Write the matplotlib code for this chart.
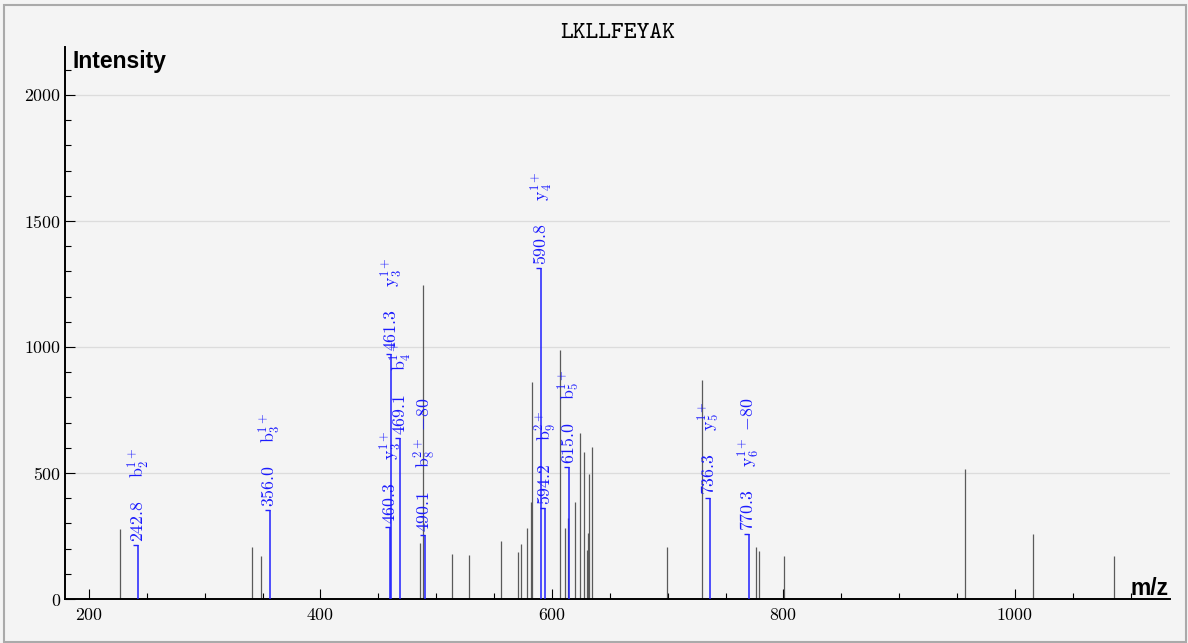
import matplotlib
matplotlib.use('Agg')
import matplotlib.pyplot as plt
from matplotlib.ticker import MultipleLocator
from matplotlib.patches import Rectangle

plt.rcParams['font.family'] = 'cmr10'
plt.rcParams['mathtext.fontset'] = 'cm'
plt.rcParams['axes.formatter.use_mathtext'] = True

peptide = 'LKLLFEYAK'

# unmatched peaks (m/z, intensity)
peak_mz = [226.8, 341.0, 348.3, 486.0, 488.3, 513.8, 528.3, 556.2, 570.9, 573.2,
           578.7, 582.1, 583.0, 607.2, 611.0, 613.7, 619.9, 624.2, 627.3, 629.9,
           631.1, 632.2, 634.3, 699.6, 729.3, 776.2, 778.8, 800.2, 957.1, 1015.3,
           1086.0]
peak_int = [277, 208, 171, 224, 1246, 178, 175, 231, 188, 218,
            280, 384, 860, 988, 280, 320, 384, 660, 585, 194,
            260, 497, 603, 205, 869, 205, 192, 172, 515, 257,
            169]

# matched fragment ions
ion_mz = [242.8, 356.0, 460.3, 461.3, 469.1, 490.1, 590.8, 594.2, 615.0, 736.3, 770.3]
ion_int = [214, 353, 284, 972, 638, 254, 1312, 360, 525, 400, 258]
ion_names = [r'$\mathrm{b}_{2}^{1+}$', r'$\mathrm{b}_{3}^{1+}$', r'$\mathrm{y}_{3}^{1+}$',
             r'$\mathrm{y}_{3}^{1+}$', r'$\mathrm{b}_{4}^{1+}$', r'$\mathrm{b}_{8}^{2+}\ {-}80$',
             r'$\mathrm{y}_{4}^{1+}$', r'$\mathrm{b}_{9}^{2+}$', r'$\mathrm{b}_{5}^{1+}$',
             r'$\mathrm{y}_{5}^{1+}$', r'$\mathrm{y}_{6}^{1+}\ {-}80$']

W, H = 1188, 643
bg = '#f4f4f4'
fig = plt.figure(figsize=(W / 100, H / 100), dpi=100, facecolor=bg)
ax = fig.add_axes([65 / W, 44 / H, 1105 / W, 552 / H], facecolor=bg)

xmin, xmax = 179.3, 1134.0
ax.set_xlim(xmin, xmax)
ax.set_ylim(0, 2190)

ax.vlines(peak_mz, 0, peak_int, color='#5a5a5a', lw=0.9, zorder=2)
ax.vlines(ion_mz, 0, ion_int, color='#2020ff', lw=1.1, zorder=3)

# short leader stub at the top of each labelled peak
stub = 5 * (xmax - xmin) / 1105
ax.hlines(ion_int, [m - stub for m in ion_mz], ion_mz, color='#2020ff', lw=1.0, zorder=3)

for m, h, name in zip(ion_mz, ion_int, ion_names):
    ax.annotate('%.1f    %s' % (m, name), xy=(m, h), xytext=(3.8, 2.2),
                textcoords='offset points', rotation=90, rotation_mode='anchor',
                ha='left', va='baseline', fontsize=12.8, color='#1a1aff', zorder=4)

ax.xaxis.set_major_locator(MultipleLocator(200))
ax.xaxis.set_minor_locator(MultipleLocator(50))
ax.yaxis.set_major_locator(MultipleLocator(500))
ax.yaxis.set_minor_locator(MultipleLocator(100))
ax.tick_params(which='both', direction='in', labelsize=12.8, width=0.8, color='black')
ax.tick_params(which='major', length=7.5)
ax.tick_params(which='minor', length=4.5)
ax.tick_params(axis='x', pad=6.0)
ax.tick_params(axis='y', pad=3.0)

ax.grid(axis='y', which='major', color='#dcdcdc', lw=0.9, zorder=0)
ax.set_axisbelow(True)
for side in ['top', 'right']:
    ax.spines[side].set_visible(False)
for side in ['left', 'bottom']:
    ax.spines[side].set_linewidth(1.4)

fig.text(617.5 / W, 1 - 33 / H, peptide, family='cmtt10', fontsize=17.5,
         ha='center', va='center')
fig.text(72 / W, 1 - 68 / H, 'Intensity', family='Liberation Sans', fontweight='bold',
         fontsize=16.5, ha='left', va='baseline')
fig.text(1130 / W, 1 - 595 / H, 'm/z', family='Liberation Sans', fontweight='bold',
         fontsize=16.5, ha='left', va='baseline')

# outer frame
fig.patches.append(Rectangle((4 / W, 1.5 / H), 1182 / W, 637 / H, transform=fig.transFigure,
                             fill=False, edgecolor='#aaaaaa', lw=1.5))

fig.savefig('out.png', dpi=100, facecolor=bg)
